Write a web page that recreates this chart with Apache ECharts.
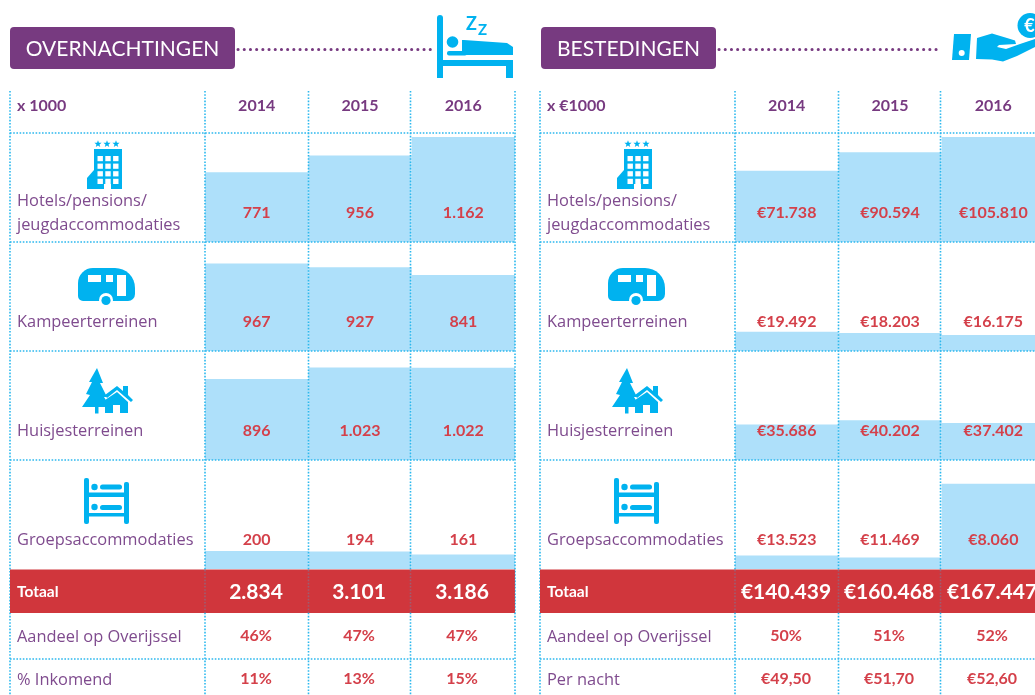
<!DOCTYPE html>
<html>
<head>
<meta charset="utf-8">
<title>Overnachtingen en bestedingen</title>
<script src="https://cdn.jsdelivr.net/npm/echarts@6/dist/echarts.min.js"></script>
<style>
	html, body { margin: 0; padding: 0; background: #fff; overflow: hidden; }
	#chart { width: 1035px; height: 695px; }
</style>
</head>
<body>
<div id="chart"></div>
<script>
var years = ['2014', '2015', '2016'];

// overnachtingen x 1000
var nachtHotels = [771, 956, 1162];
var nachtKampeer = [967, 927, 841];
var nachtHuisjes = [896, 1023, 1022];
var nachtGroeps = [200, 194, 161];
var nachtTotaal = ['2.834', '3.101', '3.186'];
var nachtAandeel = ['46%', '47%', '47%'];
var nachtInkomend = ['11%', '13%', '15%'];

// bestedingen x 1000 euro
var geldHotels = [71738, 90594, 105810];
var geldKampeer = [19492, 18203, 16175];
var geldHuisjes = [35686, 40202, 37402];
var geldGroeps = [13523, 11469, 8060];
// de balk van 2016 staat in het origineel veel hoger dan zijn label
var geldGroepsBalk = [13523, 11469, 86000];
var geldTotaal = ['€140.439', '€160.468', '€167.447'];
var geldAandeel = ['50%', '51%', '52%'];
var geldPerNacht = ['€49,50', '€51,70', '€52,60'];

var FONT = 'Lato, "Open Sans", sans-serif';
var FONT_LABEL = '"Open Sans", Lato, sans-serif';
var PURPLE = '#773a80';
var LABEL = '#7f4b8e';
var RED = '#d4404a';
var BLUE = '#00b2ef';
var DOT = '#2cb8ee';
var ROWS = [133, 242, 351, 460];
var ROW_H = 109;

var graphics = [];
var grids = [], xAxes = [], yAxes = [], series = [];

function nl(v) {
	return String(v).replace(/\B(?=(\d{3})+$)/g, '.');
}

function text(str, x, y, fill, size, bold, align, family) {
	graphics.push({
		type: 'text', z: 6,
		style: {
			text: str, x: x, y: y, fill: fill,
			font: (bold ? 'bold ' : '') + size + 'px ' + (family || FONT),
			align: align || 'left', verticalAlign: 'middle'
		}
	});
}
function label(str, x, y) {
	text(str, x, y + 1.5, LABEL, 16.4, false, 'left', FONT_LABEL);
}
function rect(x, y, w, h, fill, r, z) {
	graphics.push({
		type: 'rect', z: z || 6,
		shape: { x: x, y: y, width: w, height: h, r: r || 0 },
		style: { fill: fill }
	});
}
function circle(x, y, r, fill) {
	graphics.push({ type: 'circle', z: 6, shape: { cx: x, cy: y, r: r }, style: { fill: fill } });
}
function poly(points, fill, dx) {
	graphics.push({
		type: 'polygon', z: 6,
		shape: { points: points.map(function(p) { return [p[0] + (dx || 0), p[1]]; }) },
		style: { fill: fill }
	});
}
function dotted(x1, y1, x2, y2, stroke, z) {
	graphics.push({
		type: 'line', z: z || 3,
		shape: { x1: x1, y1: y1, x2: x2, y2: y2 },
		style: { stroke: stroke || DOT, lineWidth: 1.6, lineDash: [1.6, 1.6] }
	});
}
function star(cx, cy, r, dx) {
	var pts = [];
	for (var i = 0; i < 10; i++) {
		var a = -Math.PI / 2 + i * Math.PI / 5;
		var d = i % 2 ? r * 0.42 : r;
		pts.push([cx + d * Math.cos(a), cy + d * Math.sin(a)]);
	}
	poly(pts, BLUE, dx);
}

// pictogrammen in de eerste kolom
function hotelIcon(dx) {
	star(98, 144, 3.8, dx); star(107, 144, 3.8, dx); star(116, 144, 3.8, dx);
	poly([[94, 149], [122, 149], [122, 189], [87, 189], [87, 178], [94, 170]], BLUE, dx);
	for (var c = 0; c < 3; c++) {
		for (var r = 0; r < 4; r++) {
			rect(dx + 97.5 + c * 7.8, 156 + r * 7.6, 5.4, 5.2, '#fff');
		}
	}
	rect(dx + 104, 184, 7, 5, '#fff');
}
function caravanIcon(dx) {
	rect(dx + 78, 268, 57, 33, BLUE, [15, 20, 7, 5]);
	rect(dx + 88, 275, 13, 7, '#fff');
	rect(dx + 106, 275, 7, 7, '#fff');
	rect(dx + 117, 275, 9, 21, '#fff');
	circle(dx + 106, 300, 7, '#fff');
	circle(dx + 106, 300.5, 4.6, BLUE);
}
function huisjeIcon(dx) {
	poly([[97, 368], [103, 383], [100, 383], [107, 397], [104, 397], [110, 407], [82, 407],
		[90, 395], [86, 394], [92, 382], [89, 382]], BLUE, dx);
	rect(dx + 95, 406, 3.5, 7.5, BLUE);
	poly([[105, 395], [117, 386], [123, 391], [123, 386], [128, 386], [128, 395], [133, 400], [131, 402],
		[117, 390], [107, 398]], BLUE, dx);
	poly([[105, 400], [117, 392], [128, 402], [128, 413], [120, 413], [120, 405], [113, 405], [113, 413], [105, 413]], BLUE, dx);
}
function groepsIcon(dx) {
	rect(dx + 84, 478, 5, 46, BLUE, 2);
	rect(dx + 124, 482, 5, 42, BLUE, 2);
	rect(dx + 88, 492.5, 37, 4.5, BLUE);
	rect(dx + 88, 513, 37, 3.5, BLUE);
	circle(dx + 94.5, 487, 3.2, BLUE);
	circle(dx + 94.5, 507, 3.2, BLUE);
	rect(dx + 100, 484.5, 22, 5, BLUE, 2.5);
	rect(dx + 100, 505, 22, 5, BLUE, 2.5);
}
function bedIcon() {
	rect(437, 15, 6, 63, BLUE, [3, 3, 0, 0]);
	rect(443, 60, 70, 6, BLUE);
	rect(506, 60, 7, 18, BLUE);
	circle(452.5, 42, 5.8, BLUE);
	rect(447, 51, 20, 4.5, BLUE, 2);
	poly([[462, 40], [464, 40], [507, 43], [513, 47], [513, 55], [462, 55]], BLUE);
	text('Z', 471.5, 24, BLUE, 18, true, 'center');
	text('Z', 482.5, 30, BLUE, 15, true, 'center');
}
function handIcon() {
	poly([[954, 34], [971, 34], [969, 60], [952, 60]], BLUE);
	circle(961.7, 53, 3, '#fff');
	poly([[977, 38], [992, 33.5], [1007, 38], [1015, 40.5], [1016, 44], [999, 45], [997, 47], [1006, 49],
		[1020, 44], [1035, 39], [1035, 47], [1017, 56], [1003, 61.5], [992, 59.5], [976, 59]], BLUE);
	circle(1030, 25.5, 12.5, BLUE);
	text('€', 1029.5, 26, '#fff', 18, true, 'center');
}

// een tabel: kop, rijen, totaalregel en stippellijnen
function buildPanel(p) {
	var col = [p.x + 195, p.x + 298.5, p.x + 400.5, p.x + 505];
	var centers = [p.x + 246, p.x + 349, p.x + 452];

	rect(p.boxX, 27, p.boxW, 42, PURPLE, 4);
	text(p.title, p.boxX + p.boxW / 2, 49, '#fff', 21, false, 'center');
	graphics.push({
		type: 'line', z: 6,
		shape: { x1: p.boxX + p.boxW + 3, y1: 49.5, x2: p.lineEnd, y2: 49.5 },
		style: { stroke: PURPLE, lineWidth: 3, lineCap: 'round', lineDash: [0.1, 6.1] }
	});

	text(p.unit, p.x + 7, 105.5, PURPLE, 16, true);

	p.rows.forEach(function(row, i) {
		var idx = grids.length;
		grids.push({ left: p.x + 195, top: ROWS[i], width: 310, height: ROW_H, outerBoundsMode: 'none' });
		xAxes.push({
			gridIndex: idx, type: 'category', data: years,
			position: i === 0 ? 'top' : 'bottom',
			axisLine: { show: false }, axisTick: { show: false }, splitLine: { show: false },
			axisLabel: {
				show: i === 0, margin: 19, color: PURPLE, fontFamily: FONT, fontSize: 16, fontWeight: 'bold'
			}
		});
		yAxes.push({ gridIndex: idx, type: 'value', min: 0, max: p.max, show: false });
		series.push({
			type: 'bar', xAxisIndex: idx, yAxisIndex: idx, data: row.bar || row.values,
			barWidth: '100%', barCategoryGap: 0, z: 2, silent: true,
			itemStyle: { color: '#aee0fa' },
			label: {
				show: true, position: 'insideBottom', distance: 21,
				color: RED, fontFamily: FONT, fontSize: 16, fontWeight: 'bold',
				formatter: function(params) {
					return p.prefix + nl(row.values[params.dataIndex]);
				}
			}
		});
	});

	label('Hotels/pensions/', p.x + 7, 200);
	label('jeugdaccommodaties', p.x + 7, 223.5);
	label('Kampeerterreinen', p.x + 7, 321);
	label('Huisjesterreinen', p.x + 7, 430);
	label('Groepsaccommodaties', p.x + 7, 539);
	text('Totaal', p.x + 7, 592, '#fff', 15.5, true);
	label('Aandeel op Overijssel', p.x + 7, 636);
	label(p.lastName, p.x + 7, 679);

	for (var i = 0; i < 3; i++) {
		text(p.totaal[i], centers[i], 592, '#fff', 21, true, 'center');
		text(p.aandeel[i], centers[i], 636, RED, 16, true, 'center');
		text(p.last[i], centers[i], 679, RED, 16, true, 'center');
	}

	rect(p.x, 569.5, p.right - p.x, 43.5, '#d0363c', 0, 4);

	dotted(p.x, 91, p.x, 695);
	col.forEach(function(x) {
		dotted(x, 91, x, 695);
		// op de rode band zijn de lijnen nog net zichtbaar
		dotted(x, 570, x, 613, 'rgba(44,184,238,0.3)', 5);
	});
	ROWS.concat([659]).forEach(function(y) {
		dotted(p.x, y, p.right, y);
	});

	hotelIcon(p.dx);
	caravanIcon(p.dx);
	huisjeIcon(p.dx);
	groepsIcon(p.dx);
}

buildPanel({
	x: 10, right: 515, dx: 0, boxX: 10, boxW: 225, lineEnd: 432,
	title: 'OVERNACHTINGEN', unit: 'x 1000', prefix: '', max: 1206,
	rows: [{ values: nachtHotels }, { values: nachtKampeer }, { values: nachtHuisjes }, { values: nachtGroeps }],
	totaal: nachtTotaal, aandeel: nachtAandeel, last: nachtInkomend, lastName: '% Inkomend'
});
buildPanel({
	x: 540, right: 1035, dx: 530, boxX: 541, boxW: 175, lineEnd: 942,
	title: 'BESTEDINGEN', unit: 'x €1000', prefix: '€', max: 109900,
	rows: [{ values: geldHotels }, { values: geldKampeer }, { values: geldHuisjes }, { values: geldGroeps, bar: geldGroepsBalk }],
	totaal: geldTotaal, aandeel: geldAandeel, last: geldPerNacht, lastName: 'Per nacht'
});
bedIcon();
handIcon();

var chart = echarts.init(document.getElementById('chart'), null, { renderer: 'canvas' });
chart.setOption({
	animation: false,
	backgroundColor: '#fff',
	tooltip: { show: false },
	grid: grids,
	xAxis: xAxes,
	yAxis: yAxes,
	series: series,
	graphic: { elements: graphics }
});
</script>
</body>
</html>
